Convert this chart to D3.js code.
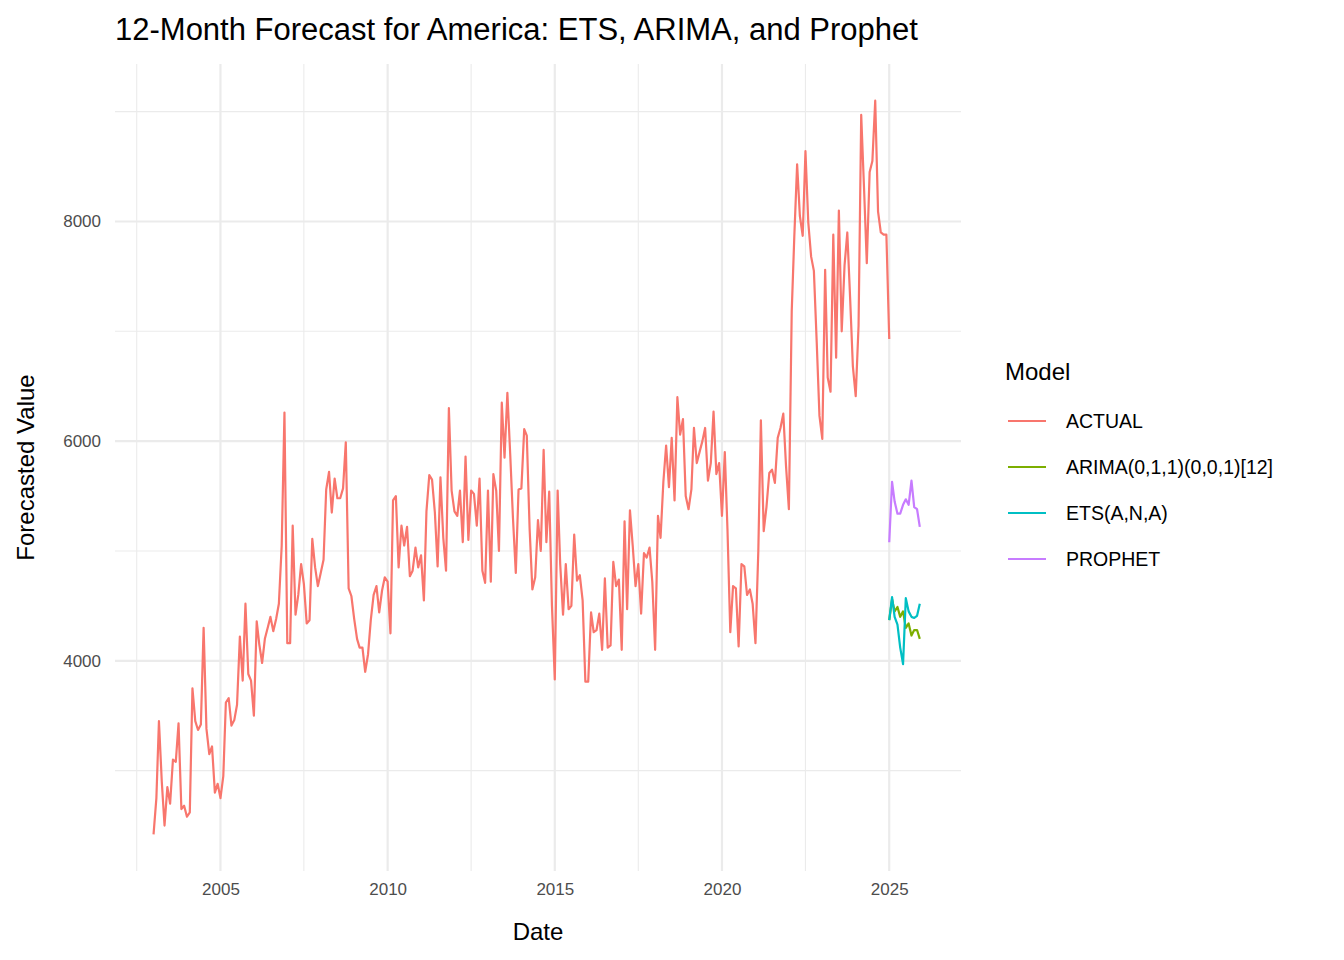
<!DOCTYPE html>
<html lang="en">
<head>
<meta charset="utf-8">
<script src="https://cdn.jsdelivr.net/npm/d3@7"></script>
<style>
  body { margin: 0; background: #fff; font-family: "Liberation Sans", Arial, sans-serif; }
</style>
</head>
<body>
<svg id="chart" width="1344" height="960"></svg>
<script>
// monthly actuals, Jan 2003 .. Jan 2025
var actual = [
  2420, 2750, 3450, 2900, 2500, 2850, 2700, 3100, 3080, 3430, 2650, 2680,
  2580, 2620, 3750, 3450, 3370, 3420, 4300, 3380, 3150, 3220, 2800, 2880,
  2750, 2950, 3620, 3660, 3410, 3460, 3600, 4220, 3820, 4520, 3880, 3820,
  3500, 4360, 4150, 3980, 4200, 4300, 4400, 4270, 4380, 4520, 5050, 6260,
  4160, 4160, 5230, 4420, 4600, 4880, 4700, 4340, 4370, 5110, 4850, 4680,
  4800, 4920, 5560, 5720, 5350, 5660, 5480, 5480, 5570, 5990, 4660, 4590,
  4380, 4200, 4120, 4120, 3900, 4060, 4370, 4600, 4680, 4440, 4640, 4760,
  4720, 4250, 5460, 5500, 4850, 5230, 5050, 5220, 4770, 4820, 5030, 4850,
  4960, 4550, 5360, 5690, 5650, 5350, 4860, 5670, 5120, 4820, 6300, 5550,
  5360, 5320, 5550, 5080, 5860, 5100, 5550, 5520, 5230, 5660, 4820, 4710,
  5550, 4720, 5700, 5550, 5000, 6350, 5850, 6440, 5880, 5300, 4800, 5560,
  5570, 6110, 6050, 5200, 4650, 4760, 5280, 5000, 5920, 5080, 5540, 4500,
  3830, 5550, 4880, 4420, 4880, 4470, 4500, 5150, 4730, 4780, 4550, 3810,
  3810, 4440, 4260, 4280, 4430, 4100, 4750, 4120, 4140, 4900, 4680, 4740,
  4100, 5270, 4470, 5370, 5050, 4680, 4880, 4430, 4980, 4940, 5030, 4720,
  4100, 5320, 5120, 5630, 5960, 5580, 6030, 5460, 6400, 6060, 6200, 5500,
  5380, 5560, 6120, 5800, 5900, 6000, 6120, 5640, 5800, 6270, 5700, 5800,
  5320, 5900, 5200, 4260, 4680, 4660, 4130, 4880, 4860, 4600, 4650, 4520,
  4160, 5000, 6190, 5180, 5400, 5710, 5740, 5620, 6030, 6120, 6250, 5770,
  5380, 7180, 7860, 8520, 8050, 7870, 8640, 7990, 7680, 7550, 6900, 6230,
  6020, 7560, 6580, 6450, 7880, 6760, 8100, 7000, 7600, 7900, 7300, 6680,
  6410, 7050, 8970, 8300, 7620, 8450, 8550, 9100, 8090, 7900, 7880, 7880,
  6930
];
// forecasts, Jan 2025 .. Dec 2025
var arima   = [4370, 4560, 4450, 4490, 4400, 4450, 4300, 4340, 4230, 4280, 4280, 4200];
var ets     = [4370, 4580, 4400, 4330, 4120, 3970, 4570, 4450, 4400, 4390, 4410, 4520];
var prophet = [5080, 5630, 5450, 5340, 5340, 5420, 5470, 5420, 5640, 5400, 5380, 5220];

var models = ["ACTUAL", "ARIMA(0,1,1)(0,0,1)[12]", "ETS(A,N,A)", "PROPHET"];
var colors = ["#F8766D", "#7CAE00", "#00BFC4", "#C77CFF"];
var yTicks = [4000, 6000, 8000];
var yMinor = [3000, 5000, 7000, 9000];
var xTicks = [2005, 2010, 2015, 2020, 2025];

function toSeries(vals, y0, m0) {
  return vals.map(function(v, i) { return { date: new Date(y0, m0 + i, 1), value: v }; });
}
var series = [
  toSeries(actual, 2003, 0),
  toSeries(arima, 2025, 0),
  toSeries(ets, 2025, 0),
  toSeries(prophet, 2025, 0)
];

var svg = d3.select("#chart");
var pLeft = 115, pRight = 961, pTop = 64, pBottom = 871;

var x = d3.scaleTime()
  .domain([new Date(2001, 10, 6), new Date(2027, 1, 24)])
  .range([pLeft, pRight]);
var y = d3.scaleLinear().domain([2086, 9434]).range([pBottom, pTop]);

var grid = svg.append("g");
yMinor.forEach(function(v) {
  grid.append("line").attr("x1", pLeft).attr("x2", pRight).attr("y1", y(v)).attr("y2", y(v))
    .attr("stroke", "#ebebeb").attr("stroke-width", 1.1);
});
xTicks.concat([2030]).forEach(function(yr) {
  var d = new Date(yr - 3, 6, 1);
  if (x(d) > pLeft && x(d) < pRight)
    grid.append("line").attr("x1", x(d)).attr("x2", x(d)).attr("y1", pTop).attr("y2", pBottom)
      .attr("stroke", "#ebebeb").attr("stroke-width", 1.1);
});
yTicks.forEach(function(v) {
  grid.append("line").attr("x1", pLeft).attr("x2", pRight).attr("y1", y(v)).attr("y2", y(v))
    .attr("stroke", "#ebebeb").attr("stroke-width", 2.2);
});
xTicks.forEach(function(yr) {
  var d = new Date(yr, 0, 1);
  grid.append("line").attr("x1", x(d)).attr("x2", x(d)).attr("y1", pTop).attr("y2", pBottom)
    .attr("stroke", "#ebebeb").attr("stroke-width", 2.2);
});

var line = d3.line().x(function(d) { return x(d.date); }).y(function(d) { return y(d.value); });
series.forEach(function(s, i) {
  svg.append("path").datum(s).attr("d", line)
    .attr("fill", "none").attr("stroke", colors[i]).attr("stroke-width", 2.2)
    .attr("stroke-linejoin", "round");
});

// axes
var xAxis = svg.append("g").attr("transform", "translate(0," + pBottom + ")")
  .call(d3.axisBottom(x).tickValues(xTicks.map(function(yr) { return new Date(yr, 0, 1); }))
    .tickFormat(d3.timeFormat("%Y")).tickSize(0).tickPadding(12));
var yAxis = svg.append("g").attr("transform", "translate(" + pLeft + ",0)")
  .call(d3.axisLeft(y).tickValues(yTicks).tickFormat(d3.format("d")).tickSize(0).tickPadding(14));
[xAxis, yAxis].forEach(function(a) {
  a.select(".domain").remove();
  a.selectAll("text").attr("fill", "#4d4d4d").style("font-size", "17px")
    .style("font-family", "Liberation Sans, Arial, sans-serif");
});

svg.append("text").attr("x", 115).attr("y", 40).attr("font-size", 31).attr("fill", "#000")
  .text("12-Month Forecast for America: ETS, ARIMA, and Prophet");
svg.append("text").attr("x", (pLeft + pRight) / 2).attr("y", 940).attr("text-anchor", "middle")
  .attr("font-size", 24).text("Date");
svg.append("text").attr("transform", "translate(34," + ((pTop + pBottom) / 2) + ") rotate(-90)")
  .attr("text-anchor", "middle").attr("font-size", 24).text("Forecasted Value");

// legend
var lg = svg.append("g");
lg.append("text").attr("x", 1005).attr("y", 380).attr("font-size", 24).text("Model");
models.forEach(function(m, i) {
  var yy = 421 + i * 46;
  lg.append("line").attr("x1", 1008).attr("x2", 1046).attr("y1", yy).attr("y2", yy)
    .attr("stroke", colors[i]).attr("stroke-width", 2.2);
  lg.append("text").attr("x", 1066).attr("y", yy + 7).attr("font-size", 19.5).text(m);
});
</script>
</body>
</html>
